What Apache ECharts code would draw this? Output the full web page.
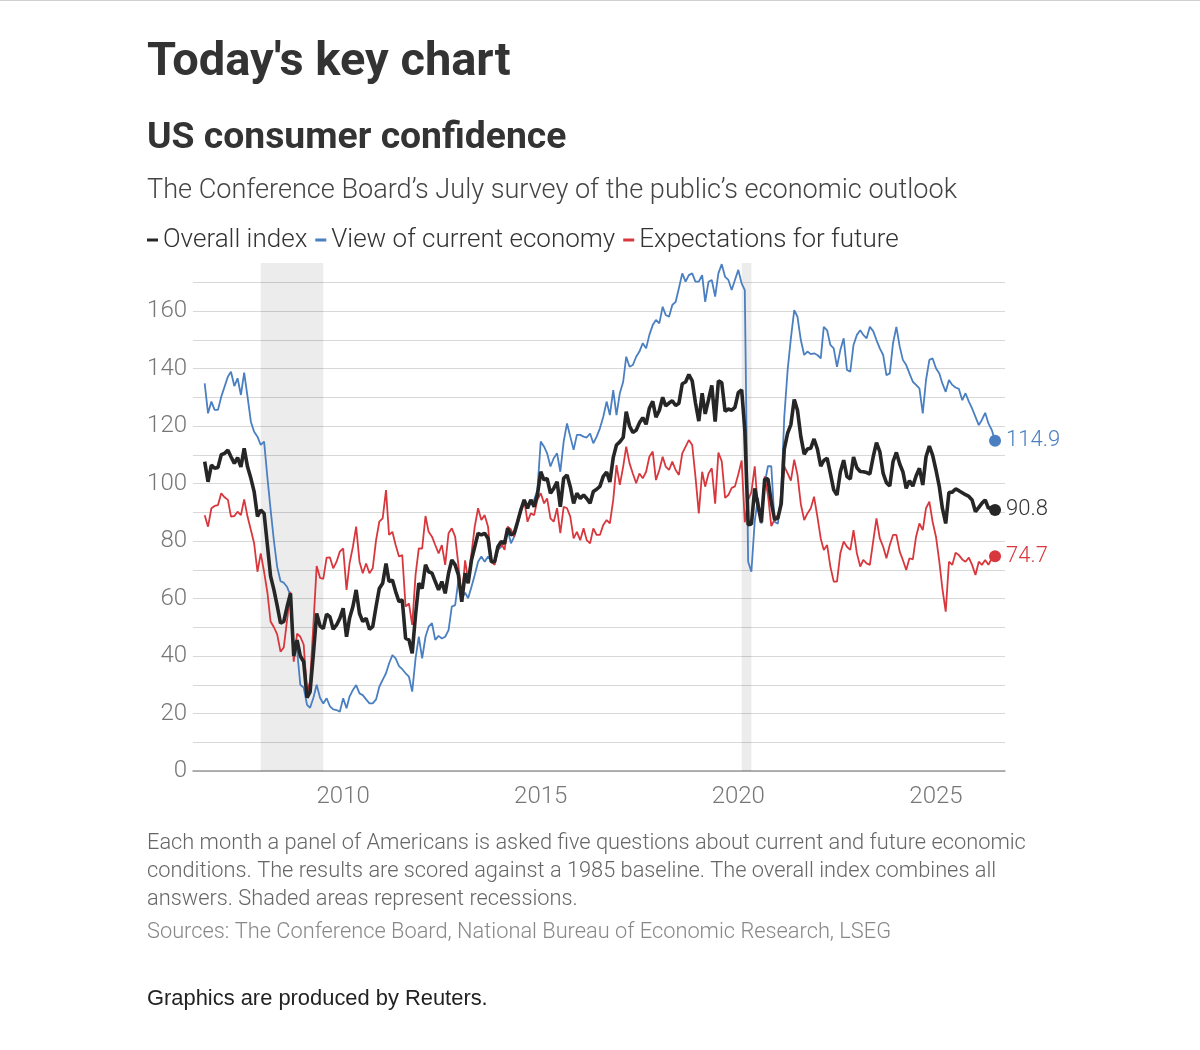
<!DOCTYPE html>
<html>
<head>
<meta charset="utf-8">
<script src="https://cdn.jsdelivr.net/npm/echarts@6/dist/echarts.min.js"></script>
<style>
body { margin: 0; background-color: #fff; }
#main { width: 1200px; height: 1050px; }
</style>
</head>
<body>
<div id="main"></div>
<script>
// monthly readings, July 2006 .. July 2026
var firstMonth = [2006, 6];

var overall = [
  107.6, 100.6, 106.4, 105.3, 105.6, 110.0, 110.5, 111.6, 109.3, 107.0, 109.0, 105.8,
  112.2, 105.8, 101.8, 97.2, 88.5, 90.8, 89.6, 78.5, 67.8, 63.0, 57.5, 51.4,
  52.0, 57.2, 61.8, 40.0, 45.5, 40.0, 38.0, 25.5, 27.5, 40.8, 54.8, 50.5,
  49.5, 54.6, 53.6, 49.3, 50.8, 53.1, 56.6, 46.7, 53.1, 57.2, 63.0, 54.8,
  52.0, 53.1, 49.3, 50.2, 57.2, 63.5, 65.3, 72.2, 65.9, 66.4, 62.4, 58.9,
  59.5, 46.1, 45.6, 40.9, 54.3, 65.3, 63.5, 71.7, 69.3, 68.8, 65.9, 63.0,
  65.9, 61.8, 68.8, 73.4, 71.7, 68.2, 58.9, 68.8, 65.3, 73.4, 78.0, 82.7,
  82.1, 82.7, 80.9, 72.8, 72.8, 78.0, 79.8, 79.2, 84.4, 82.1, 82.7, 86.7,
  90.8, 94.3, 91.4, 94.3, 91.9, 96.0, 104.1, 101.2, 101.8, 96.6, 98.3, 100.6,
  91.9, 101.8, 103.0, 98.9, 93.1, 96.6, 94.8, 96.0, 94.8, 93.1, 97.2, 98.0,
  99.0, 102.5, 104.0, 100.5, 109.0, 113.4, 114.5, 116.0, 125.0, 120.0, 117.8, 118.5,
  121.1, 122.9, 120.6, 126.2, 128.6, 123.1, 125.4, 130.0, 127.0, 128.0, 128.8, 127.1,
  127.9, 134.7, 135.3, 137.9, 135.7, 128.1, 121.7, 131.4, 124.2, 129.2, 134.1, 121.5,
  135.7, 135.1, 125.1, 125.9, 125.5, 126.5, 131.6, 132.6, 118.8, 85.7, 85.9, 98.3,
  92.5, 86.5, 101.5, 101.6, 93.5, 87.5, 88.0, 93.0, 112.0, 117.5, 120.5, 129.2,
  125.5, 116.3, 110.2, 112.0, 112.3, 115.5, 112.0, 106.0, 108.0, 108.8, 103.5, 97.8,
  96.0, 104.0, 108.1, 102.4, 101.6, 109.2, 105.5, 104.2, 104.1, 103.8, 103.3, 109.3,
  114.2, 111.1, 103.5, 100.3, 99.1, 107.6, 110.8, 106.8, 104.1, 98.3, 101.0, 99.1,
  102.6, 105.3, 99.5, 109.3, 113.0, 109.9, 104.7, 98.9, 91.4, 86.1, 96.9, 97.0,
  98.1, 97.5, 96.8, 96.1, 95.5, 94.3, 90.2, 91.7, 93.1, 94.3, 91.4, 91.7, 90.8
];

var current = [
  134.8, 124.4, 128.5, 125.6, 125.6, 130.2, 133.7, 137.2, 138.9, 133.9, 136.6, 130.8,
  138.6, 130.2, 121.5, 118.0, 116.3, 113.4, 114.6, 102.0, 91.0, 80.0, 71.0, 66.0,
  65.5, 64.0, 61.0, 43.0, 42.0, 30.0, 29.0, 23.0, 22.0, 25.5, 30.0, 25.5,
  23.5, 25.3, 22.5, 21.4, 21.2, 20.6, 25.3, 21.8, 25.9, 28.2, 29.9, 27.0,
  26.4, 24.9, 23.5, 23.5, 24.9, 29.3, 31.7, 34.0, 37.4, 40.3, 39.2, 36.5,
  35.4, 34.0, 32.8, 27.6, 39.2, 46.7, 39.2, 46.7, 50.2, 51.4, 45.6, 47.0,
  46.1, 46.7, 49.0, 57.2, 57.7, 66.4, 60.1, 62.0, 60.1, 64.1, 68.2, 72.8,
  74.6, 72.8, 74.6, 73.4, 72.8, 76.9, 78.0, 80.3, 83.8, 79.2, 81.5, 85.6,
  90.2, 93.7, 92.5, 93.1, 94.3, 97.7, 114.6, 112.8, 110.5, 105.9, 108.8, 110.5,
  104.1, 114.6, 120.9, 116.3, 111.7, 116.9, 116.9, 116.3, 116.0, 117.4, 114.0, 116.3,
  119.2, 123.2, 128.5, 123.8, 132.5, 123.8, 131.4, 135.4, 144.1, 140.6, 141.2, 144.1,
  145.9, 148.8, 147.0, 151.7, 155.1, 156.9, 155.7, 161.5, 158.6, 158.0, 162.1, 163.2,
  167.9, 173.1, 170.2, 172.5, 173.1, 170.2, 170.2, 172.5, 163.2, 170.2, 170.8, 165.0,
  173.1, 176.3, 171.9, 170.8, 167.3, 170.8, 174.3, 169.6, 167.3, 72.8, 69.3, 87.0,
  95.0, 86.0, 100.0, 106.0, 106.0, 86.7, 86.0, 97.0, 123.2, 139.5, 150.5, 160.3,
  158.0, 149.9, 144.7, 145.9, 145.0, 145.3, 144.7, 143.5, 154.5, 153.3, 148.2, 147.0,
  140.6, 146.4, 150.5, 139.5, 138.9, 148.2, 151.7, 153.3, 151.7, 150.5, 154.5, 153.0,
  149.9, 147.0, 144.7, 137.7, 138.3, 148.8, 154.5, 147.6, 143.0, 141.2, 138.3, 135.4,
  134.3, 133.1, 124.4, 136.0, 143.0, 143.5, 140.1, 138.3, 134.8, 131.9, 136.0, 134.3,
  133.4, 132.9, 129.0, 131.4, 128.5, 126.1, 123.2, 120.3, 122.1, 124.6, 120.9, 118.6, 114.9
];

var expectations = [
  89.0, 85.0, 91.4, 92.2, 92.5, 96.6, 95.2, 94.3, 88.5, 88.7, 90.2, 89.0,
  94.5, 88.5, 83.8, 79.2, 69.3, 75.7, 69.3, 62.0, 52.0, 50.0, 47.5, 41.5,
  43.0, 52.7, 62.3, 38.0, 47.8, 46.7, 44.0, 27.2, 31.2, 51.0, 71.3, 67.2,
  66.8, 74.2, 74.3, 70.5, 72.8, 76.3, 77.4, 63.0, 72.2, 78.0, 85.0, 72.8,
  68.8, 72.2, 68.8, 70.5, 80.3, 86.7, 87.9, 97.7, 82.1, 83.2, 78.6, 74.6,
  75.1, 57.2, 58.3, 50.8, 68.2, 77.4, 77.4, 88.7, 83.2, 81.5, 78.6, 75.7,
  78.6, 71.7, 82.7, 84.4, 81.5, 71.7, 59.5, 73.3, 66.4, 75.7, 85.0, 91.4,
  87.3, 89.0, 85.0, 72.8, 71.7, 76.9, 79.2, 76.9, 85.0, 84.0, 81.5, 87.3,
  91.4, 94.3, 86.7, 89.6, 89.0, 94.3, 96.6, 93.1, 94.8, 87.9, 86.7, 91.4,
  82.7, 91.9, 91.4, 88.5, 80.9, 83.2, 80.3, 84.4, 80.3, 79.2, 84.4, 82.1,
  82.1, 85.6, 87.3, 86.1, 94.3, 106.4, 99.5, 105.9, 112.8, 107.0, 103.5, 100.1,
  103.5, 101.8, 104.1, 109.3, 111.1, 101.2, 104.7, 109.3, 105.9, 104.7, 107.6, 104.7,
  103.0, 110.5, 112.8, 115.1, 113.4, 102.4, 89.6, 104.1, 98.9, 103.5, 105.3, 93.0,
  110.8, 107.7, 95.0, 96.0, 98.5, 99.0, 103.2, 108.0, 86.5, 94.3, 97.0, 106.0,
  91.0, 87.0, 102.5, 96.0, 85.2, 87.5, 89.0, 93.0, 106.0, 103.5, 101.0, 108.3,
  103.0, 92.8, 87.3, 89.6, 91.4, 95.4, 88.5, 80.9, 76.9, 78.6, 71.1, 65.9,
  65.9, 75.7, 79.8, 78.0, 76.9, 83.8, 75.7, 71.1, 73.4, 72.2, 71.7, 80.0,
  87.9, 80.9, 78.0, 74.0, 78.6, 82.1, 82.1, 76.3, 73.4, 69.9, 74.0, 73.6,
  81.5, 86.1, 83.8, 91.4, 93.7, 86.7, 81.5, 72.8, 63.5, 55.4, 72.8, 71.7,
  75.9, 75.1, 73.6, 72.8, 74.2, 71.7, 68.2, 72.8, 71.7, 73.4, 71.7, 74.0, 74.7
];

var yearLabels = [2010, 2015, 2020, 2025];
// recessions, [first month, month after end]
var recessions = [[[2007, 11], [2009, 6]], [[2020, 1], [2020, 4]]];

function monthTime(y, m) { return Date.UTC(y, m, 1); }

function pairs(vals) {
  return vals.map(function (v, i) {
    return [monthTime(firstMonth[0], firstMonth[1] + i), v];
  });
}

var FONT = 'Roboto';

function lineSeries(name, vals, color, width, labelColor) {
  var last = vals.length - 1;
  return {
    name: name,
    type: 'line',
    data: pairs(vals),
    symbol: 'circle',
    showSymbol: true,
    showAllSymbol: true,
    symbolSize: function (v, p) { return p.dataIndex === last ? 12 : 0; },
    lineStyle: { color: color, width: width },
    itemStyle: { color: color },
    emphasis: { disabled: true },
    silent: true,
    endLabel: {
      show: true,
      formatter: function (p) { return p.value[1].toFixed(1); },
      color: labelColor,
      fontFamily: FONT,
      fontWeight: 300,
      fontSize: 22,
      distance: 11
    }
  };
}

var blue = lineSeries('View of current economy', current, '#4a7fc1', 1.8, '#4a7fc1');
blue.markArea = {
  silent: true,
  itemStyle: { color: 'rgba(0,0,0,0.075)' },
  data: recessions.map(function (r) {
    return [{ xAxis: monthTime(r[0][0], r[0][1]) }, { xAxis: monthTime(r[1][0], r[1][1]) }];
  })
};
var red = lineSeries('Expectations for future', expectations, '#d8383d', 1.8, '#d8383d');
var black = lineSeries('Overall index', overall, '#262626', 3.6, '#333');

function note(text, y, size, color, family, weight) {
  return {
    type: 'text', x: 147, y: y,
    style: { text: text, fontFamily: family || FONT, fontWeight: weight || 300, fontSize: size, fill: color, verticalAlign: 'middle' }
  };
}

var chart = echarts.init(document.getElementById('main'));

var option = {
  animation: false,
  backgroundColor: '#fff',
  grid: { left: 193, right: 195, top: 263, bottom: 279 },
  legend: {
    left: 147,
    top: 227,
    padding: 0,
    icon: 'rect',
    itemWidth: 11,
    itemHeight: 3,
    itemGap: 8,
    selectedMode: false,
    textStyle: { fontFamily: FONT, fontWeight: 300, fontSize: 26, color: '#333' },
    data: ['Overall index', 'View of current economy', 'Expectations for future']
  },
  xAxis: {
    type: 'value',
    min: Date.UTC(2006, 2, 15),
    max: Date.UTC(2026, 9, 1),
    axisLine: { lineStyle: { color: '#999', width: 1.5 } },
    axisTick: { show: false },
    splitLine: { show: false },
    axisLabel: {
      customValues: yearLabels.map(function (y) { return monthTime(y, 0); }),
      formatter: function (v) { return String(new Date(v).getUTCFullYear()); },
      color: '#777',
      fontFamily: FONT,
      fontWeight: 300,
      fontSize: 24,
      margin: 14
    }
  },
  yAxis: {
    type: 'value',
    min: 0,
    max: 176.7,
    interval: 10,
    axisLine: { show: false },
    axisTick: { show: false },
    splitLine: { showMaxLine: false, lineStyle: { color: '#d8d8d8', width: 1 } },
    axisLabel: {
      showMaxLabel: false,
      formatter: function (v) { return v % 20 === 0 ? String(v) : ''; },
      color: '#777',
      fontFamily: FONT,
      fontWeight: 300,
      fontSize: 24,
      margin: 6
    }
  },
  graphic: [
    { type: 'rect', shape: { x: 0, y: 0, width: 1200, height: 1 }, style: { fill: '#d0d0d0' } },
    note("Today's key chart", 63, 47, '#333', FONT, 'bold'),
    note('US consumer confidence', 139, 37.3, '#333', FONT, 'bold'),
    note('The Conference Board\u2019s July survey of the public\u2019s economic outlook', 191, 27.1, '#444'),
    note('Each month a panel of Americans is asked five questions about current and future economic', 844, 21.8, '#666'),
    note('conditions. The results are scored against a 1985 baseline. The overall index combines all', 872, 21.8, '#666'),
    note('answers. Shaded areas represent recessions.', 900, 21.8, '#666'),
    note('Sources: The Conference Board, National Bureau of Economic Research, LSEG', 933, 21.8, '#888'),
    note('Graphics are produced by Reuters.', 999, 21.9, '#222', 'Liberation Sans', 'normal')
  ],
  series: [blue, red, black]
};

chart.setOption(option);
</script>
</body>
</html>
